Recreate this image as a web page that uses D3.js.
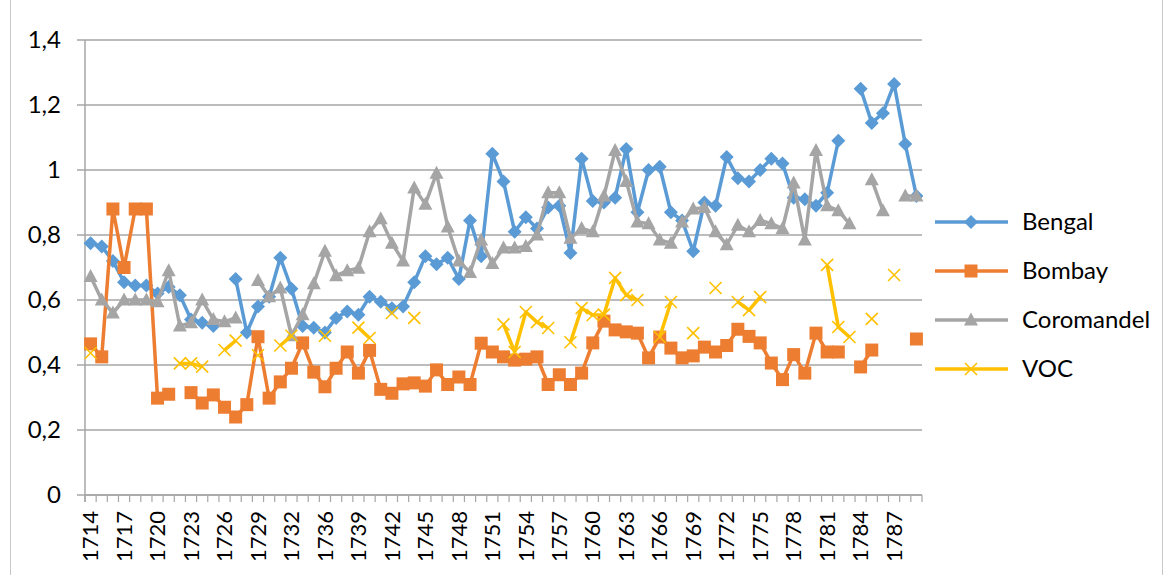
<!DOCTYPE html>
<html>
<head>
<meta charset="utf-8">
<script src="https://cdn.jsdelivr.net/npm/d3@7"></script>
<style>
  body { margin: 0; background: #fff; }
  svg text { font-family: Lato, "Liberation Sans", sans-serif; fill: #000; }
</style>
</head>
<body>
<div id="chart"></div>
<script>
// years on the category axis (1735 is absent in the source)
var years = [];
for (var yr = 1714; yr <= 1789; yr++) { if (yr !== 1735) years.push(yr); }

var yTicks = [0, 0.2, 0.4, 0.6, 0.8, 1, 1.2, 1.4];

var bengal = [0.775, 0.765, 0.72, 0.655, 0.645, 0.645, 0.62, 0.64, 0.615, 0.54,
  0.53, 0.52, null, 0.665, 0.50, 0.58, 0.61, 0.73, 0.635, 0.52,
  0.515, 0.50, 0.545, 0.565, 0.555, 0.61, 0.595, 0.575, 0.58, 0.655,
  0.735, 0.71, 0.73, 0.665, 0.845, 0.735, 1.05, 0.965, 0.81, 0.855,
  0.82, 0.885, 0.89, 0.745, 1.035, 0.905, 0.9, 0.915, 1.065, 0.87,
  1.0, 1.01, 0.87, 0.845, 0.75, 0.9, 0.89, 1.04, 0.975, 0.965,
  1.0, 1.035, 1.02, 0.915, 0.91, 0.89, 0.93, 1.09, null, 1.25,
  1.145, 1.175, 1.265, 1.08, 0.92];

var bombay = [0.465, 0.425, 0.88, 0.70, 0.88, 0.88, 0.298, 0.31, null, 0.315,
  0.283, 0.308, 0.27, 0.24, 0.278, 0.487, 0.298, 0.348, 0.39, 0.468,
  0.378, 0.333, 0.39, 0.44, 0.375, 0.445, 0.325, 0.313, 0.342, 0.345,
  0.335, 0.385, 0.34, 0.363, 0.34, 0.467, 0.44, 0.425, 0.415, 0.418,
  0.425, 0.34, 0.37, 0.34, 0.375, 0.468, 0.535, 0.508, 0.502, 0.498,
  0.422, 0.486, 0.452, 0.422, 0.428, 0.455, 0.44, 0.46, 0.51, 0.488,
  0.468, 0.406, 0.355, 0.432, 0.375, 0.498, 0.44, 0.44, null, 0.394,
  0.446, null, null, null, 0.48];

var coromandel = [0.672, 0.60, 0.56, 0.60, 0.60, 0.60, 0.595, 0.69, 0.52, 0.53,
  0.60, 0.54, 0.533, 0.545, null, 0.66, 0.61, 0.637, 0.49, 0.555,
  0.65, 0.75, 0.675, 0.69, 0.698, 0.81, 0.85, 0.775, 0.72, 0.945,
  0.895, 0.99, 0.825, 0.72, 0.685, 0.785, 0.712, 0.76, 0.76, 0.765,
  0.80, 0.93, 0.93, 0.79, 0.82, 0.81, 0.92, 1.06, 0.965, 0.84,
  0.835, 0.785, 0.775, 0.84, 0.88, 0.885, 0.81, 0.77, 0.83, 0.81,
  0.845, 0.835, 0.82, 0.96, 0.785, 1.06, 0.89, 0.875, 0.835, null,
  0.97, 0.875, null, 0.92, 0.92];

var voc = [0.437, null, null, null, null, null, null, null, 0.405, 0.405,
  0.395, null, 0.446, 0.475, null, 0.43, null, 0.46, 0.49, null,
  null, 0.49, null, null, 0.515, 0.483, null, 0.56, null, 0.545,
  null, null, null, null, null, null, null, 0.525, 0.44, 0.563,
  0.532, 0.514, null, 0.47, 0.575, 0.554, 0.555, 0.668, 0.615, 0.6,
  null, 0.486, 0.594, null, 0.498, null, 0.637, null, 0.594, 0.569,
  0.609, null, null, null, null, null, 0.708, 0.517, 0.486, null,
  0.542, null, 0.677, null, null];

var series = [
  {name: 'Bengal', values: bengal, color: '#5B9BD5', marker: 'diamond'},
  {name: 'Bombay', values: bombay, color: '#ED7D31', marker: 'square'},
  {name: 'Coromandel', values: coromandel, color: '#A5A5A5', marker: 'triangle'},
  {name: 'VOC', values: voc, color: '#FFC000', marker: 'cross'}
];

var width = 1166, height = 575;
var margin = {left: 85, right: 244, top: 40, bottom: 80};

var svg = d3.select('#chart').append('svg')
  .attr('width', width)
  .attr('height', height);

// outer chart border
svg.append('rect')
  .attr('x', 10.5).attr('y', -2)
  .attr('width', 1152).attr('height', 580)
  .attr('fill', 'none')
  .attr('stroke', '#c8c8c8');

var x = d3.scaleBand()
  .domain(years)
  .range([margin.left, width - margin.right])
  .padding(0);

var y = d3.scaleLinear()
  .domain([0, 1.4])
  .range([height - margin.bottom, margin.top]);

// gridlines + y ticks
svg.append('g')
  .selectAll('line')
  .data(yTicks)
  .enter().append('line')
  .attr('x1', margin.left - 8)
  .attr('x2', width - margin.right)
  .attr('y1', function(d) { return y(d); })
  .attr('y2', function(d) { return y(d); })
  .attr('stroke', '#a6a6a6')
  .attr('stroke-width', 1.5);

svg.append('g')
  .selectAll('text')
  .data(yTicks)
  .enter().append('text')
  .attr('x', margin.left - 24)
  .attr('y', function(d) { return y(d); })
  .attr('dy', '0.35em')
  .attr('text-anchor', 'end')
  .style('font-size', '24px')
  .text(function(d) { return String(+d.toFixed(1)).replace('.', ','); });

// vertical axis line
svg.append('line')
  .attr('x1', margin.left).attr('x2', margin.left)
  .attr('y1', margin.top).attr('y2', y(0) + 7)
  .attr('stroke', '#a6a6a6')
  .attr('stroke-width', 1.5);

// x axis: line, a tick between every category, label every third
var xAxis = svg.append('g');
xAxis.append('line')
  .attr('x1', margin.left).attr('x2', width - margin.right)
  .attr('y1', y(0)).attr('y2', y(0))
  .attr('stroke', '#a6a6a6')
  .attr('stroke-width', 1.5);

xAxis.selectAll('.tick')
  .data(years.concat(['end']))
  .enter().append('line')
  .attr('class', 'tick')
  .attr('x1', function(d) { return d === 'end' ? x.range()[1] : x(d); })
  .attr('x2', function(d) { return d === 'end' ? x.range()[1] : x(d); })
  .attr('y1', y(0))
  .attr('y2', y(0) + 7)
  .attr('stroke', '#a6a6a6')
  .attr('stroke-width', 1.2);

xAxis.selectAll('.lbl')
  .data(years.filter(function(d, i) { return i % 3 === 0; }))
  .enter().append('text')
  .attr('class', 'lbl')
  .attr('transform', function(d) {
    return 'translate(' + (x(d) + x.bandwidth() / 2) + ',' + (y(0) + 16) + ') rotate(-90)';
  })
  .attr('dy', '0.35em')
  .attr('text-anchor', 'end')
  .style('font-size', '22px')
  .text(function(d) { return d; });

// marker shapes
function markerPath(type) {
  if (type === 'diamond') return 'M0,-7L7,0L0,7L-7,0Z';
  if (type === 'square') return 'M-6.5,-6.5H6.5V6.5H-6.5Z';
  if (type === 'triangle') return 'M0,-7.5L7,5.5L-7,5.5Z';
  return 'M-6,-6L6,6M-6,6L6,-6';
}

function drawMarker(g, type, color) {
  var p = g.append('path').attr('d', markerPath(type));
  if (type === 'cross') p.attr('fill', 'none').attr('stroke', color).attr('stroke-width', 1.6);
  else p.attr('fill', color);
  return p;
}

var line = d3.line()
  .defined(function(d) { return d.v !== null; })
  .x(function(d) { return x(d.year) + x.bandwidth() / 2; })
  .y(function(d) { return y(d.v); });

series.forEach(function(s) {
  var pts = years.map(function(yr, i) { return {year: yr, v: s.values[i]}; });
  var g = svg.append('g');

  g.append('path')
    .datum(pts)
    .attr('d', line)
    .attr('fill', 'none')
    .attr('stroke', s.color)
    .attr('stroke-width', 3.5)
    .attr('stroke-linejoin', 'round');

  pts.filter(function(d) { return d.v !== null; }).forEach(function(d) {
    var m = g.append('g')
      .attr('transform', 'translate(' + (x(d.year) + x.bandwidth() / 2) + ',' + y(d.v) + ')');
    drawMarker(m, s.marker, s.color);
  });
});

// legend
var legend = svg.selectAll('.legend')
  .data(series)
  .enter().append('g')
  .attr('class', 'legend')
  .attr('transform', function(d, i) { return 'translate(935,' + (222 + i * 49) + ')'; });

legend.append('line')
  .attr('x1', 0).attr('x2', 73)
  .attr('stroke', function(d) { return d.color; })
  .attr('stroke-width', 3.5);

legend.each(function(d) {
  var m = d3.select(this).append('g').attr('transform', 'translate(36,0)');
  drawMarker(m, d.marker, d.color);
});

legend.append('text')
  .attr('x', 87)
  .attr('dy', '0.35em')
  .style('font-size', '24px')
  .text(function(d) { return d.name; });
</script>
</body>
</html>
